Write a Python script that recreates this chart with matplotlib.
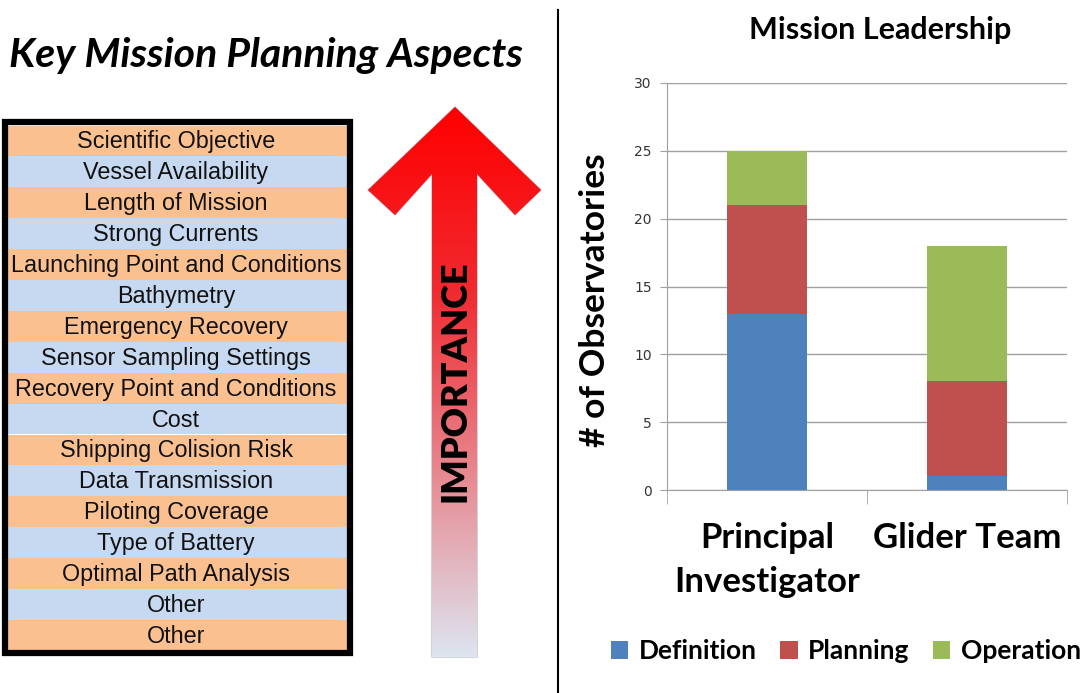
import numpy as np
import matplotlib
matplotlib.use("Agg")
import matplotlib.pyplot as plt
from matplotlib.patches import Polygon, Rectangle
from matplotlib.colors import LinearSegmentedColormap

# chart data
categories = ["Principal\nInvestigator", "Glider Team"]
definition = [13, 1]
planning = [8, 7]
operation = [4, 10]

aspects = ["Scientific Objective", "Vessel Availability", "Length of Mission",
           "Strong Currents", "Launching Point and Conditions", "Bathymetry",
           "Emergency Recovery", "Sensor Sampling Settings",
           "Recovery Point and Conditions", "Cost", "Shipping Colision Risk",
           "Data Transmission", "Piloting Coverage", "Type of Battery",
           "Optimal Path Analysis", "Other", "Other"]

W, H = 1090, 693
fig = plt.figure(figsize=(W / 100, H / 100), dpi=100)

# ---- left panel, drawn in pixel coordinates
ov = fig.add_axes([0, 0, 1, 1])
ov.set_xlim(0, W)
ov.set_ylim(H, 0)
ov.axis("off")

ov.text(9, 55, "Key Mission Planning Aspects", fontsize=29.5, fontweight="bold",
        fontstyle="italic", family="Lato", ha="left", va="center")

row_top, row_h = 125.5, 30.9
for i, name in enumerate(aspects):
    col = "#FAC090" if i % 2 == 0 else "#C6D9F1"
    ov.add_patch(Rectangle((6, row_top + i * row_h), 342, row_h, facecolor=col,
                           edgecolor="none"))
    ov.text(176, row_top + (i + 0.5) * row_h + 1, name, fontsize=16.8,
            family="Liberation Sans", ha="center", va="center", color="#111111")
ov.add_patch(Rectangle((5, 122), 345, 531, fill=False, edgecolor="black", lw=4.5))

# importance arrow with gradient
arrow_pts = [(455, 107), (541, 190), (515, 215), (477, 174), (477, 657),
             (432, 657), (432, 174), (395, 215), (368, 190)]
arrow = Polygon(arrow_pts, closed=True, facecolor="none", edgecolor="#B0B0B8", lw=0.8)
ov.add_patch(arrow)
cmap = LinearSegmentedColormap.from_list("imp", ["#FF0000", "#F02A30", "#E88890", "#DDE5F0"])
grad = np.linspace(0, 1, 256).reshape(-1, 1)
img = ov.imshow(grad, cmap=cmap, extent=[368, 541, 657, 107], aspect="auto", zorder=1)
img.set_clip_path(arrow)
ov.text(455, 381, "IMPORTANCE", rotation=90, fontsize=26, fontweight="heavy",
        family="Lato", ha="center", va="center", zorder=3)

# divider
ov.plot([558, 558], [10, 693], color="black", lw=1.5)

# ---- right panel: stacked bars
ax = fig.add_axes([667 / W, 1 - 490 / H, 400 / W, 407 / H])
x = np.arange(len(categories))
ax.bar(x, definition, width=0.4, color="#4F81BD", label="Definition", zorder=3)
ax.bar(x, planning, width=0.4, bottom=definition, color="#C0504D", label="Planning", zorder=3)
bottom2 = [a + b for a, b in zip(definition, planning)]
ax.bar(x, operation, width=0.4, bottom=bottom2, color="#9BBB59", label="Operation", zorder=3)

ax.set_xlim(-0.5, 1.5)
ax.set_ylim(0, 30)
ax.set_yticks(range(0, 31, 5))
ax.yaxis.grid(True, color="#A0A0A0", lw=1)
ax.set_axisbelow(True)
for s in ["top", "right"]:
    ax.spines[s].set_visible(False)
for s in ["left", "bottom"]:
    ax.spines[s].set_color("#A0A0A0")
ax.tick_params(axis="y", length=5, color="#A0A0A0", labelsize=10, labelcolor="#333333", pad=6)
ax.set_xticks(x)
ax.set_xticklabels(categories, fontsize=25, fontweight="bold", family="Lato",
                   linespacing=1.45)
ax.set_xticks([-0.5, 0.5, 1.5], minor=True)
ax.tick_params(axis="x", which="major", length=0, pad=23)
ax.tick_params(axis="x", which="minor", length=10, color="#A0A0A0")
ax.spines["left"].set_bounds(0, 30)
ax.set_ylabel("# of Observatories", fontsize=25.5, fontweight="bold", family="Lato")
ax.yaxis.set_label_coords(-0.14, 0.467)
ax.set_title("Mission Leadership", fontsize=22, fontweight="bold", family="Lato",
             pad=32, x=0.533)

leg = fig.legend(loc="center", bbox_to_anchor=(846 / W, 1 - 651 / H), ncol=3,
                 frameon=False, prop={"family": "Lato", "weight": "bold", "size": 19},
                 handlelength=0.65, handleheight=0.65, handletextpad=0.4, columnspacing=0.9)

fig.savefig("out.png", dpi=100)
